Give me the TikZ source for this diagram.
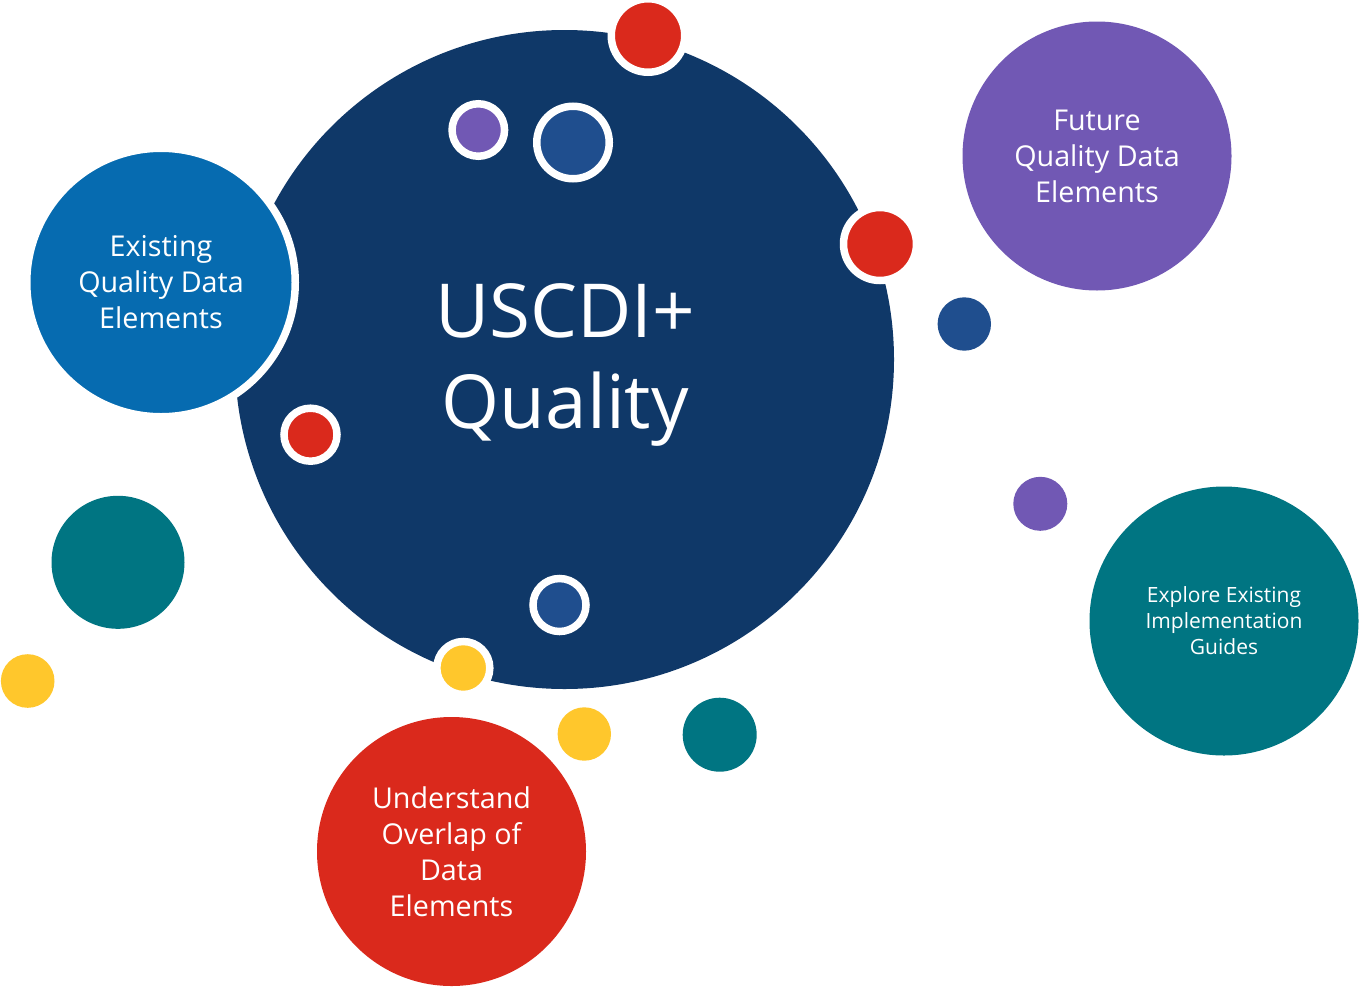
\documentclass[tikz,border=0pt]{standalone}
\usepackage{fontspec}
\setmainfont{Open Sans}
\definecolor{navy}{HTML}{0F3868}
\definecolor{bblue}{HTML}{066BB0}
\definecolor{purp}{HTML}{7158B4}
\definecolor{teal2}{HTML}{007582}
\definecolor{redc}{HTML}{DA291C}
\definecolor{yel}{HTML}{FFC72C}
\definecolor{sblue}{HTML}{1F4E8E}
\tikzset{
  dot/.style={circle, inner sep=0pt, outer sep=0pt, draw=none, minimum size=#1},
  ringdot/.style={circle, inner sep=0pt, outer sep=0pt, draw=white, line width=7.5pt, minimum size=#1},
  bigtext/.style={text=white, align=center, font=\fontsize{28.7}{36}\selectfont},
  titletext/.style={text=white, anchor=base, inner sep=0pt, font=\fontsize{74.5}{90}\selectfont},
}
\begin{document}
\begin{tikzpicture}[x=1pt,y=-1pt]
\useasboundingbox[fill=white] (0,0) rectangle (1359,988);
% main circle
\node[dot=659pt, fill=navy] (main) at (564.5,359.5) {};
\node[titletext] (t1line) at (565.3,337.3) {USCDI+};
\node[titletext] (t2line) at (565.3,428.3) {Quality};
% existing (overlapping, white rim)
\node[ringdot=268.5pt, fill=bblue, bigtext] (exist) at (161,282.5) {Existing\\Quality Data\\Elements};
% future
\node[dot=269pt, fill=purp, bigtext] (future) at (1097,156) {Future\\Quality Data\\Elements};
% explore
\node[dot=269pt, fill=teal2, text=white, align=center, font=\fontsize{21}{26}\selectfont] (explore) at (1224,621) {Explore Existing\\Implementation\\Guides};
% understand
\node[dot=269pt, fill=redc, bigtext] (under) at (451.5,851.5) {Understand\\Overlap of\\Data\\Elements};
% small ringed dots
\node[ringdot=73.5pt, fill=redc] (r1) at (648,35.5) {};
\node[ringdot=52.5pt, fill=purp] (p1) at (478.3,130) {};
\node[ringdot=72.5pt, fill=sblue] (b1) at (573,142.5) {};
\node[ringdot=73pt, fill=redc] (r2) at (880,244) {};
\node[ringdot=53pt, fill=redc] (r3) at (310.5,434.7) {};
\node[ringdot=53pt, fill=sblue] (b2) at (559.5,605) {};
\node[ringdot=53pt, fill=yel] (y1) at (463.3,668) {};
% free dots
\node[dot=53.4pt, fill=sblue] (b3) at (964.3,324) {};
\node[dot=133pt, fill=teal2] (t1) at (118,562.3) {};
\node[dot=53.6pt, fill=yel] (y2) at (27.7,681) {};
\node[dot=53.4pt, fill=yel] (y3) at (584.3,734) {};
\node[dot=74pt, fill=teal2] (t2) at (719.7,734.7) {};
\node[dot=54pt, fill=purp] (p2) at (1040.3,503.8) {};
\end{tikzpicture}
\end{document}
